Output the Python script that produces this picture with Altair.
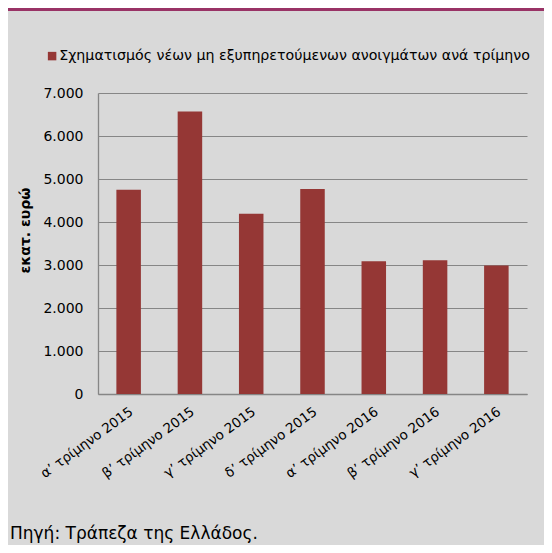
import altair as alt
import pandas as pd

categories = ["α’ τρίμηνο 2015", "β’ τρίμηνο 2015", "γ’ τρίμηνο 2015", "δ’ τρίμηνο 2015",
              "α’ τρίμηνο 2016", "β’ τρίμηνο 2016", "γ’ τρίμηνο 2016"]
values = [4750, 6570, 4190, 4770, 3090, 3110, 2990]
series_name = "Σχηματισμός νέων μη εξυπηρετούμενων ανοιγμάτων ανά τρίμηνο"
y_title = "εκατ. ευρώ"
source_note = "Πηγή: Τράπεζα της Ελλάδος."
y_ticks = [0, 1000, 2000, 3000, 4000, 5000, 6000, 7000]

FONT = "DejaVu Sans"
BAR = "#953735"
GRID = "#868686"

df = pd.DataFrame({"quarter": categories, "value": values, "series": [series_name] * len(values)})

bars = alt.Chart(df).mark_bar(color=BAR).encode(
    x=alt.X("quarter:N", sort=categories, title=None,
            scale=alt.Scale(paddingInner=0.6, paddingOuter=0.3),
            axis=alt.Axis(labelAngle=-36, labelAlign="right", labelBaseline="middle",
                          labelPadding=16, labelOffset=3, ticks=False,
                          labelFont=FONT, labelFontSize=13.5, labelColor="#000000",
                          domainColor=GRID, domainWidth=1.3)),
    y=alt.Y("value:Q", title=y_title,
            scale=alt.Scale(domain=[0, 7000], nice=False),
            axis=alt.Axis(values=y_ticks, ticks=False, labelPadding=15,
                          labelExpr="replace(format(datum.value, ','), ',', '.')",
                          labelFont=FONT, labelFontSize=14, labelColor="#000000",
                          grid=True, gridColor=GRID, gridWidth=1.2,
                          domainColor=GRID, domainWidth=1.3,
                          titleFont=FONT, titleFontSize=14, titleFontWeight="bold",
                          titleColor="#000000", titleX=-69, titleY=137,
                          titleAngle=-90, titleBaseline="alphabetic")),
    color=alt.Color("series:N", scale=alt.Scale(range=[BAR]), title=None,
                    legend=alt.Legend(orient="none", legendX=-53, legendY=-44,
                                      symbolType="square", symbolSize=72,
                                      symbolStrokeWidth=0, symbolOpacity=1,
                                      labelFont=FONT, labelFontSize=14.2,
                                      labelColor="#000000", labelOffset=0,
                                      labelLimit=600, padding=0)),
)

band_df = pd.DataFrame({"k": [1]})
top_band = alt.Chart(band_df).mark_rect(color="#993366").encode(
    x=alt.value(-90), x2=alt.value(446), y=alt.value(-85), y2=alt.value(-82)
)

note_df = pd.DataFrame({"note": [source_note]})
note = alt.Chart(note_df).mark_text(align="left", baseline="alphabetic", font=FONT,
                                    fontSize=17, color="#000000").encode(
    x=alt.value(-88), y=alt.value(446), text="note:N"
)

chart = alt.layer(bars, top_band, note).properties(
    width=429, height=301,
    autosize=alt.AutoSizeParams(type="none"),
    padding={"left": 90, "top": 85, "right": 17, "bottom": 151},
    background="#d9d9d9",
).configure_view(strokeWidth=0)

chart.save("out.html", embed_options={"renderer": "svg", "actions": False})
